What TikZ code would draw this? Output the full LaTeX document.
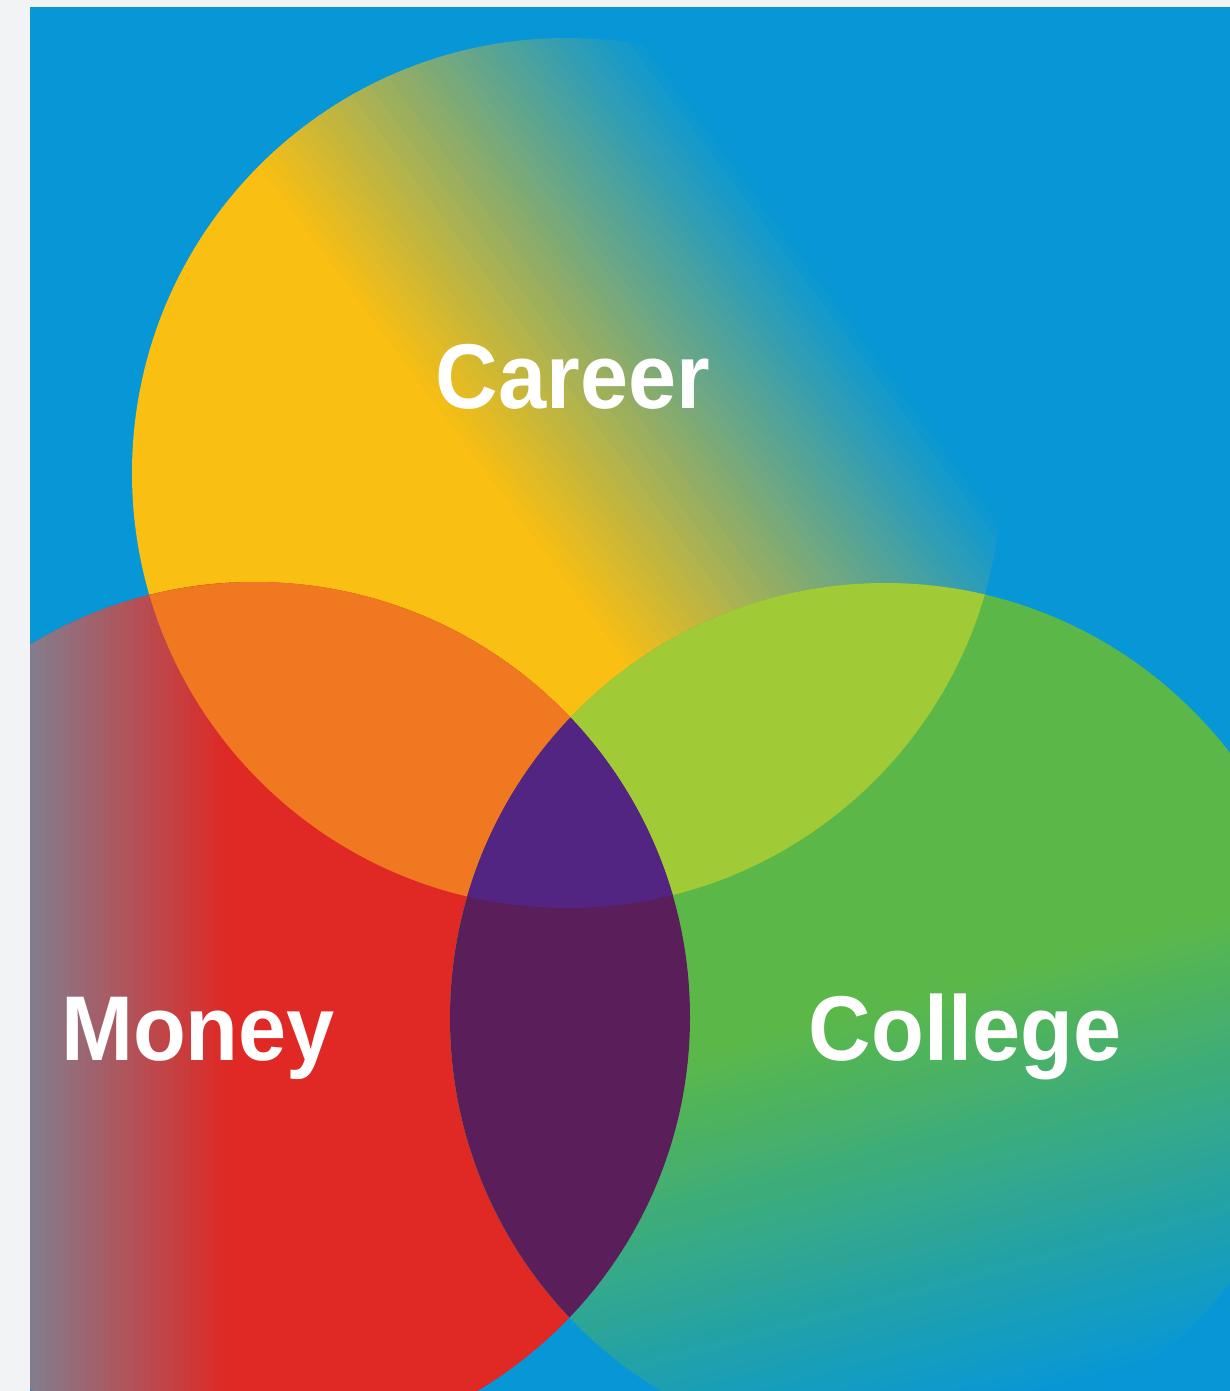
\documentclass[tikz,border=0pt]{standalone}
\usepackage{fontspec}
\newfontfamily\labfont{Liberation Sans}[FakeStretch=0.94]
\definecolor{pagegray}{HTML}{F2F3F5}
\definecolor{bgblue}{HTML}{0797D6}
\definecolor{careerY}{HTML}{F9BF12}
\definecolor{moneyR}{HTML}{E02824}
\definecolor{moneyG}{HTML}{827D8E}
\definecolor{collegeG}{HTML}{5BB848}
\definecolor{cmOrange}{HTML}{EF7820}
\definecolor{ccLime}{HTML}{A0CB36}
\definecolor{allPurple}{HTML}{522583}
\definecolor{mcPlum}{HTML}{5A1E5A}
\begin{document}
\begin{tikzpicture}[x=1pt,y=1pt,
  lab/.style={text=white, font=\labfont\bfseries\fontsize{92}{92}\selectfont, anchor=base, inner sep=0pt}]
\useasboundingbox (0,0) rectangle (1230,-1391);
\fill[pagegray] (0,0) rectangle (1230,-1391);
\coordinate (cC) at (567,-473);
\coordinate (mC) at (255,-1017);
\coordinate (gC) at (885,-1018);
\begin{scope}
  \clip (30,-7) rectangle (1230,-1391);
  \fill[bgblue] (30,-7) rectangle (1230,-1391);
  % Career circle: yellow fading to blue toward upper right
  \begin{scope}
    \clip (cC) circle (435);
    \begin{scope}[rotate=36.5]
      \fill[careerY] (-1500,-2000) rectangle (110.5,200);
      \foreach \i in {0,...,39} {
        \pgfmathsetmacro\pa{110+\i*9.75}
        \pgfmathsetmacro\pb{110+(\i+1)*9.75+0.6}
        \pgfmathtruncatemacro\pc{100-(\i+0.5)*2.5}
        \fill[careerY!\pc!bgblue] (\pa,-2000) rectangle (\pb,200);
      }
    \end{scope}
  \end{scope}
  % Money circle: red, grey toward the left edge
  \begin{scope}
    \clip (mC) circle (435);
    \fill[moneyR] (mC) circle (435);
    \foreach \i in {0,...,24} {
      \pgfmathsetmacro\pa{30+\i*8}
      \pgfmathsetmacro\pb{30+(\i+1)*8+0.6}
      \pgfmathtruncatemacro\pc{(\i+0.5)*4}
      \fill[moneyR!\pc!moneyG] (\pa,-500) rectangle (\pb,-1400);
    }
  \end{scope}
  % College circle: green fading to blue toward the bottom right
  \begin{scope}
    \clip (gC) circle (435);
    \begin{scope}[rotate=-75]
      \fill[collegeG] (-200,-600) rectangle (1200.5,1400);
      \foreach \i in {0,...,41} {
        \pgfmathsetmacro\pa{1200+\i*10}
        \pgfmathsetmacro\pb{1200+(\i+1)*10+0.6}
        \pgfmathtruncatemacro\pc{100-(\i+0.5)*100/42}
        \fill[collegeG!\pc!bgblue] (\pa,-600) rectangle (\pb,1400);
      }
      \fill[bgblue] (1620,-600) rectangle (2000,1400);
    \end{scope}
  \end{scope}
  % Intersections
  \begin{scope}
    \clip (cC) circle (435);
    \fill[cmOrange] (mC) circle (435);
    \fill[ccLime] (gC) circle (435);
  \end{scope}
  \begin{scope}
    \clip (mC) circle (435);
    \fill[mcPlum] (gC) circle (435);
  \end{scope}
  \begin{scope}
    \clip (cC) circle (435);
    \clip (mC) circle (435);
    \fill[allPurple] (gC) circle (435);
  \end{scope}
\end{scope}
\node[lab] (career) at (573,-408) {Career};
\node[lab] (money) at (198,-1060) {Money};
\node[lab] (college) at (965,-1060) {College};
\end{tikzpicture}
\end{document}
